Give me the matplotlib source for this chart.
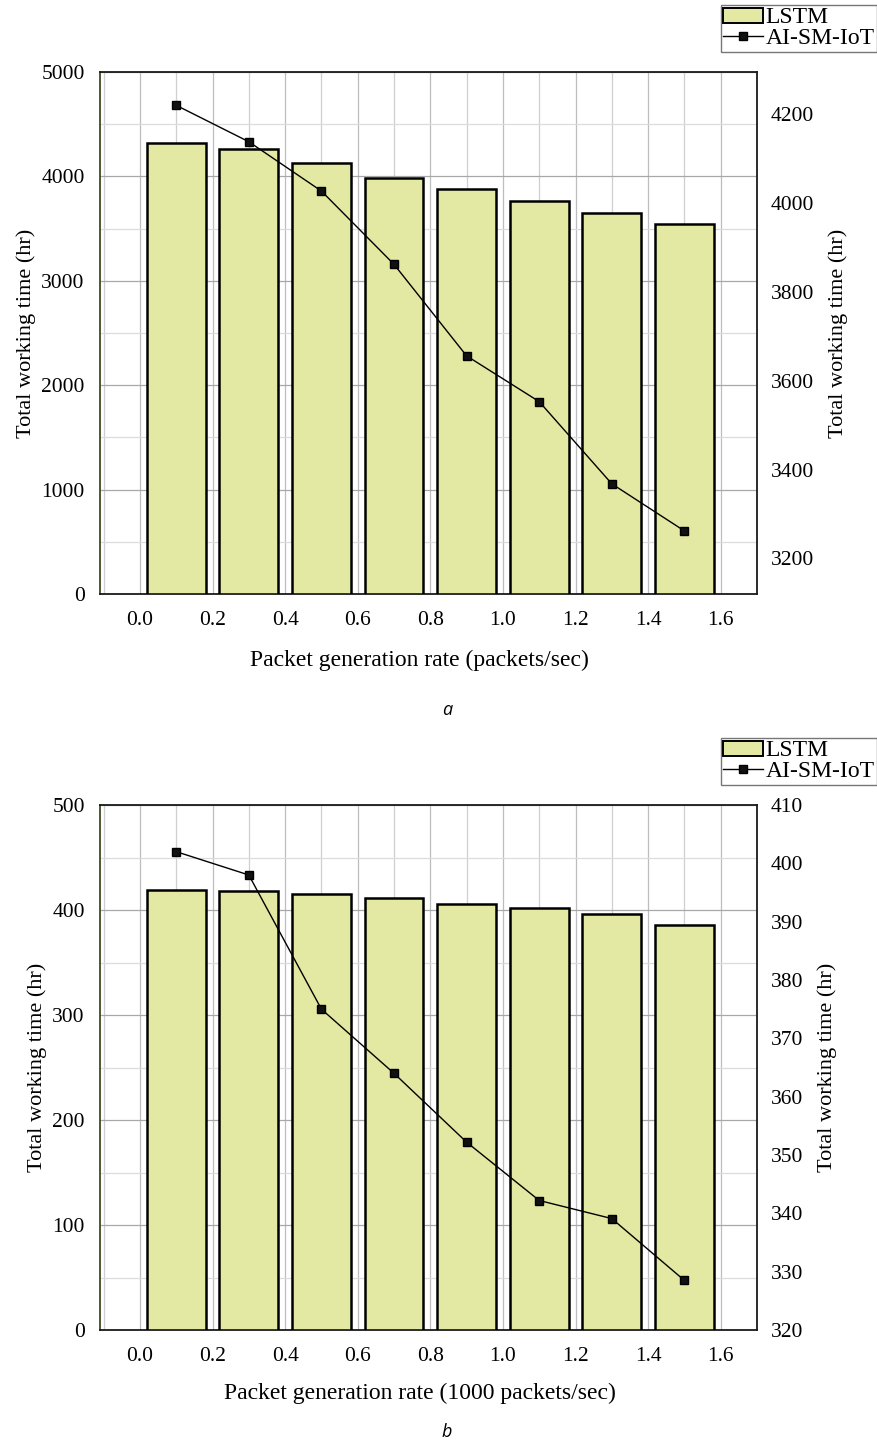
import matplotlib
matplotlib.use("Agg")
import matplotlib.pyplot as plt
from matplotlib.patches import Patch
from matplotlib.lines import Line2D
from matplotlib.ticker import MultipleLocator

# ---- data ----
rates = [0.1, 0.3, 0.5, 0.7, 0.9, 1.1, 1.3, 1.5]
lstm_a = [4320, 4260, 4130, 3980, 3875, 3760, 3645, 3540]
aismiot_a = [4220, 4138, 4027, 3862, 3656, 3553, 3368, 3262]
lstm_b = [419.5, 417.7, 415.2, 411.3, 405.8, 401.9, 396.5, 386.1]
aismiot_b = [402.0, 398.0, 375.0, 364.0, 352.2, 342.2, 339.1, 328.5]
xticks = [0.0, 0.2, 0.4, 0.6, 0.8, 1.0, 1.2, 1.4, 1.6]
xlabel_a = "Packet generation rate (packets/sec)"
xlabel_b = "Packet generation rate (1000 packets/sec)"
ylabel = "Total working time (hr)"
series_names = ["LSTM", "AI-SM-IoT"]

SERIF = ["Liberation Serif", "DejaVu Serif"]
plt.rcParams["font.family"] = SERIF
BAR_COLOR = "#e3e9a2"
TICK_FS = 15.5
XLAB_FS = 17
YLAB_FS = 16
LEG_FS = 17

fig = plt.figure(figsize=(8.78, 14.56), dpi=100)


def panel(rect, bars, line, ylim_l, ystep_l, ylim_r, ystep_r, xlabel, tag, tag_y, xl_y, leg_y):
    ax = fig.add_axes(rect)
    ax.set_facecolor("white")
    ax.set_axisbelow(True)
    ax.bar(rates, bars, width=0.162, color=BAR_COLOR, edgecolor="black",
           linewidth=1.8, zorder=3)
    ax.set_xlim(-0.11, 1.70)
    ax.set_ylim(*ylim_l)
    ax.set_xticks(xticks)
    ax.set_xticklabels([f"{v:.1f}" for v in xticks])
    ax.xaxis.set_minor_locator(MultipleLocator(0.1))
    ax.yaxis.set_major_locator(MultipleLocator(ystep_l))
    ax.yaxis.set_minor_locator(MultipleLocator(ystep_l / 2))
    ax.grid(True, which="major", axis="x", color="#bdbdbd", lw=0.9)
    ax.grid(True, which="minor", axis="x", color="#cfcfcf", lw=0.9)
    ax.grid(True, which="major", axis="y", color="#a8a8a8", lw=0.9)
    ax.grid(True, which="minor", axis="y", color="#dcdcdc", lw=0.9)
    ax.tick_params(which="both", length=0, labelsize=TICK_FS)
    ax.tick_params(axis="x", pad=12)
    ax.tick_params(axis="y", pad=11)
    ax.set_ylabel(ylabel, fontsize=YLAB_FS, labelpad=4)
    for s in ax.spines.values():
        s.set_linewidth(1.3)
        s.set_color("#1a1a1a")
    ax.spines["left"].set_color("#3d4d22")

    ax2 = ax.twinx()
    ax2.plot(rates, line, color="black", lw=1.0, marker="s", ms=6,
             markerfacecolor="#111111", markeredgecolor="black", zorder=5)
    ax2.set_ylim(*ylim_r)
    ax2.yaxis.set_major_locator(MultipleLocator(ystep_r))
    ax2.tick_params(length=0, labelsize=TICK_FS, pad=10)
    ax2.set_ylabel(ylabel, fontsize=YLAB_FS, labelpad=10)
    for s in ax2.spines.values():
        s.set_visible(False)

    fig.text(0.478, xl_y, xlabel, ha="center", va="center", fontsize=XLAB_FS)
    fig.text(0.509, tag_y, tag, ha="center", va="center", fontsize=13,
             style="italic", family=["Open Sans", "DejaVu Sans"])

    handles = [Patch(facecolor=BAR_COLOR, edgecolor="black", linewidth=1.4),
               Line2D([], [], color="black", lw=1.0, marker="s", ms=6,
                      markerfacecolor="#111111")]
    leg = fig.legend(handles, series_names, loc="upper right",
                     bbox_to_anchor=(0.999, leg_y), fontsize=LEG_FS,
                     frameon=True, fancybox=False, borderpad=0.1,
                     labelspacing=0.0, handlelength=1.7, handleheight=0.6,
                     handletextpad=0.1, borderaxespad=0.0)
    leg.get_frame().set_edgecolor("#555555")
    leg.get_frame().set_linewidth(1.0)
    return ax, ax2


W = 8.78 * 100
H = 14.56 * 100
left = 100 / W
width = (757 - 100) / W

panel([left, 1 - 594 / H, width, (594 - 72) / H], lstm_a, aismiot_a,
      (0, 5000), 1000, (3120, 4295), 200, xlabel_a, "a",
      1 - 710 / H, 1 - 660 / H, 1 - 5 / H)
panel([left, 1 - 1330 / H, width, (1330 - 805) / H], lstm_b, aismiot_b,
      (0, 500), 100, (320, 410), 10, xlabel_b, "b",
      1 - 1432 / H, 1 - 1393 / H, 1 - 738 / H)

fig.savefig("out.png", dpi=100, facecolor="white")
